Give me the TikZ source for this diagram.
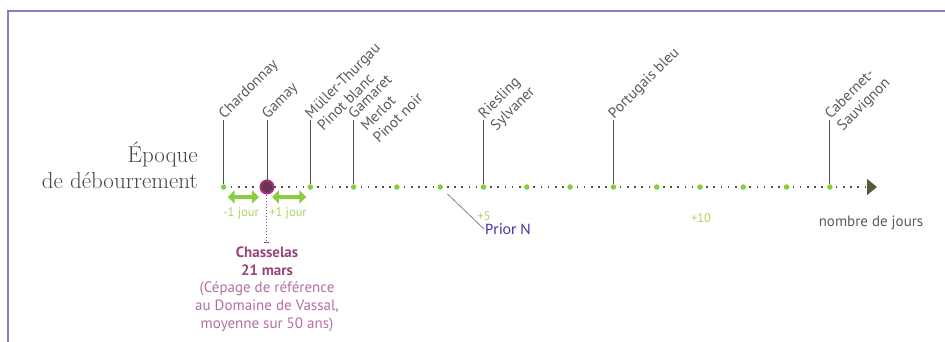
\documentclass[tikz,border=0pt]{standalone}
\usepackage{fontspec}
\newfontfamily\labelfont{PT Sans}
\newfontfamily\notefont{Carlito}
\usetikzlibrary{positioning,arrows.meta}

\definecolor{framecol}{RGB}{128,128,200}
\definecolor{dotgreen}{RGB}{128,208,60}
\definecolor{shiftgreen}{RGB}{140,204,64}
\definecolor{lightgreen}{RGB}{170,212,100}
\definecolor{stemgray}{RGB}{80,80,80}
\definecolor{textgray}{RGB}{90,90,90}
\definecolor{titlegray}{RGB}{70,70,70}
\definecolor{chasdark}{RGB}{110,50,80}
\definecolor{chasring}{RGB}{160,50,120}
\definecolor{chastext}{RGB}{150,70,125}
\definecolor{chaslight}{RGB}{180,110,160}
\definecolor{arrowolive}{RGB}{90,90,55}
\definecolor{notecol}{RGB}{75,60,170}

\tikzstyle{daydot}=[circle,fill=dotgreen,minimum size=5.5pt,inner sep=0pt]
\tikzstyle{refdot}=[circle,fill=chasdark,draw=chasring,line width=2pt,minimum size=13pt,inner sep=0pt]
\tikzstyle{stemline}=[draw=stemgray,line width=0.9pt]
\tikzstyle{variety}=[rotate=45,anchor=base west,inner sep=1pt,text=textgray,font=\labelfont\fontsize{15}{17.5}\selectfont]
\tikzstyle{dayaxis}=[draw=stemgray,line width=1.6pt,dash pattern=on 1.6pt off 5.6pt,-{Triangle[length=10pt 0,width=16pt 0,color=arrowolive]}]
\tikzstyle{dayshift}=[draw=shiftgreen,line width=3.5pt,{Triangle[length=7pt 0,width=13pt 0]}-{Triangle[length=7pt 0,width=13pt 0]}]
\tikzstyle{daytick}=[text=lightgreen,font=\labelfont\fontsize{12.5}{14}\selectfont]
\tikzstyle{refline}=[draw=chastext,line width=1pt,dash pattern=on 1pt off 2pt]
\tikzstyle{chasname}=[align=center,text=chastext,inner sep=0pt,font=\labelfont\bfseries\fontsize{15}{18}\selectfont]
\tikzstyle{chasnote}=[align=center,text=chaslight,inner sep=0pt,font=\labelfont\fontsize{15}{18}\selectfont]
\tikzstyle{title}=[align=right,text=titlegray,inner sep=0pt,font=\fontsize{23}{26}\selectfont]
\tikzstyle{noteline}=[draw=gray,line width=0.8pt]
\newcommand{\dayw}{43.3}
% labels on several lines, with the first line as base
\newcommand{\vlabel}[1]{\begin{tabular}[t]{@{}l@{}}#1\end{tabular}}

\begin{document}
\begin{tikzpicture}[x=1pt, y=1pt]
    \useasboundingbox (-267,-154) rectangle (678,187);
    % frame of the figure
    \draw[framecol, line width=2pt] (-258.5,-160) |- (690,176.5);

    % First we draw the axis, then the days on it
    \coordinate (axisstart) at (-\dayw,0);
    \coordinate (axisend) at (610,0);
    \path[dayaxis] (axisstart) -- (axisend);
    \foreach \d in {-1,1,2,...,13}
        \node[daydot] (day\d) at ({\d*\dayw},0) {};
    \node[refdot] (chas) at (0,0) {};

    % Stems and names of the varieties
    \foreach \src/\name/\txt in {day-1/chard/Chardonnay, chas/gamay/Gamay,
            day1/muller/{Müller-Thurgau\\Pinot blanc}, day2/gamaret/{Gamaret\\Merlot\\Pinot noir},
            day5/riesling/{Riesling\\Sylvaner}, day8/portugais/Portugais bleu,
            day13/cabernet/{Cabernet-\\Sauvignon}}
    {
        \node[variety] (\name) at ([yshift=67pt]\src.center) {\vlabel{\txt}};
        \path[stemline] (\src) -- (\name.base west);
    }

    % one day before and after
    \path[dayshift, shorten <=4pt, shorten >=8pt] ([yshift=-10pt]day-1.center) -- ([yshift=-10pt]chas.center);
    \path[dayshift, shorten <=5pt, shorten >=4pt] ([yshift=-10pt]chas.center) -- ([yshift=-10pt]day1.center);
    \node[daytick] (minus1) at (-26,-26) {-1 jour};
    \node[daytick] (plus1) at (21,-26) {+1 jour};
    \node[daytick] (plus5) at (217,-29) {+5};
    \node[daytick] (plus10) at (434,-31) {+10};

    % the reference variety
    \coordinate (chasfoot) at (0,-55);
    \path[refline] (chas) -- (chasfoot);
    \draw[chastext, line width=1pt] ([xshift=-2.5pt]chasfoot) -- ([xshift=2.5pt]chasfoot);
    \node[chasname, below=5pt of chasfoot] (chasselas) {Chasselas\\21 mars};
    \node[chasnote, below=5pt of chasselas] (chasnote) {(Cépage de référence\\au Domaine de Vassal,\\moyenne sur 50 ans)};

    % titles
    \node[title, anchor=base east] (epoque) at (-69,-1) {Époque\\de débourrement};
    \node[text=textgray, font=\labelfont\fontsize{15}{18}\selectfont] (jours) at (604,-36) {nombre de jours};

    % note
    \node[text=notecol, anchor=west, inner sep=1pt, font=\notefont\fontsize{16}{19}\selectfont] (prior) at (217,-42) {Prior N};
    \path[noteline, shorten <=7pt] (day4) -- (prior.west);
\end{tikzpicture}
\end{document}
